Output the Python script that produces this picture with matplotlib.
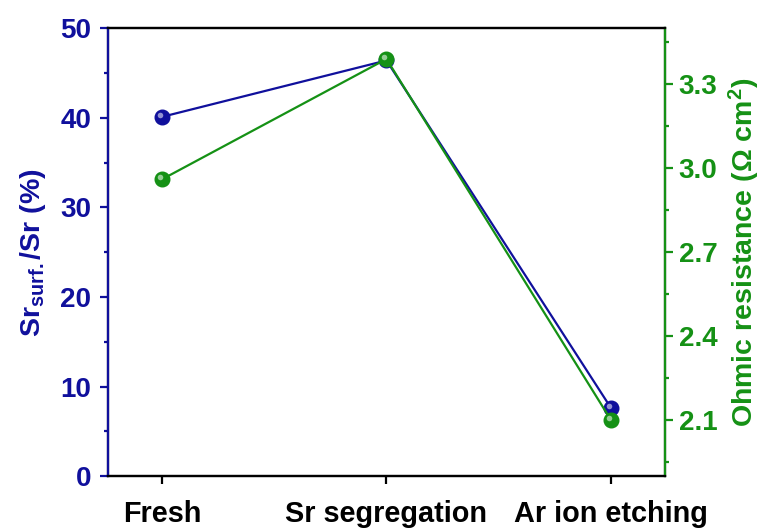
import numpy as np
import matplotlib
matplotlib.use('Agg')
import matplotlib.pyplot as plt

plt.rcParams['font.family'] = ['Liberation Sans', 'DejaVu Sans']
plt.rcParams['font.weight'] = 'bold'
plt.rcParams['mathtext.fontset'] = 'custom'
plt.rcParams['mathtext.rm'] = 'Liberation Sans:bold'
plt.rcParams['mathtext.bf'] = 'Liberation Sans:bold'
plt.rcParams['mathtext.it'] = 'Liberation Sans:bold'

# data
stages = ['Fresh', 'Sr segregation', 'Ar ion etching']
sr_surf = [40.1, 46.4, 7.6]        # Sr_surf./Sr (%)
ohmic = [2.96, 3.39, 2.10]         # Ohmic resistance (Ohm cm2)

blue = '#10109c'
green = '#159115'

fig = plt.figure(figsize=(7.65, 5.32), dpi=100)
ax = fig.add_axes([0.1412, 0.105, 0.728, 0.842])
ax2 = ax.twinx()

x = np.arange(len(stages))


def spheres(axis, xs, ys, color, z):
    axis.plot(xs, ys, '-', color=color, lw=1.6, zorder=z)
    axis.plot(xs, ys, 'o', ms=10.5, color=color, mec=color, zorder=z + 0.1)
    # small highlight to look like the shaded balls
    axis.plot(xs, ys, 'o', ms=4, color='white', alpha=0.55, mew=0, zorder=z + 0.2,
              transform=axis.transData + matplotlib.transforms.ScaledTranslation(
                  -1.5 / 72, 1.5 / 72, fig.dpi_scale_trans))


spheres(ax, x, sr_surf, blue, 3)
spheres(ax2, x, ohmic, green, 3)

ax.set_xlim(-0.24, 2.24)
ax.set_ylim(0, 50)
ax2.set_ylim(1.9, 3.5)

ax.set_xticks(x)
ax.set_xticklabels(stages, fontsize=20.8, fontweight='bold')
ax.set_yticks([0, 10, 20, 30, 40, 50])
ax.set_yticks([5, 15, 25, 35, 45], minor=True)
ax2.set_yticks([2.1, 2.4, 2.7, 3.0, 3.3])
ax2.set_yticks([1.95, 2.25, 2.55, 2.85, 3.15, 3.45], minor=True)
ax2.set_yticklabels(['2.1', '2.4', '2.7', '3.0', '3.3'])

ax.tick_params(axis='x', direction='out', length=6, width=1.6, pad=11)
ax.tick_params(axis='y', which='major', direction='out', length=5.5, width=1.6,
               colors=blue, labelsize=20, pad=6.5)
ax.tick_params(axis='y', which='minor', direction='out', length=3, width=1.6, colors=blue)
ax2.tick_params(axis='y', which='major', direction='out', length=5.5, width=1.6,
                colors=green, labelsize=20, pad=4.5)
ax2.tick_params(axis='y', which='minor', direction='out', length=3, width=1.6, colors=green)

for lab in ax.get_yticklabels() + ax2.get_yticklabels():
    lab.set_fontweight('bold')

for axis in (ax, ax2):
    for s in axis.spines.values():
        s.set_linewidth(1.6)
ax2.spines['left'].set_color(blue)
ax2.spines['right'].set_color(green)
ax2.spines['top'].set_color('black')
ax2.spines['bottom'].set_color('black')

ax.set_ylabel(r'Sr$_{\mathbf{surf.}}$/Sr (%)', color=blue, fontsize=20.5,
              fontweight='bold', labelpad=9)
ax2.set_ylabel(r'Ohmic resistance ($\Omega$ cm$^{\mathbf{2}}$)', color=green,
               fontsize=20.5, fontweight='bold', labelpad=7)

fig.savefig('out.png', dpi=100)
